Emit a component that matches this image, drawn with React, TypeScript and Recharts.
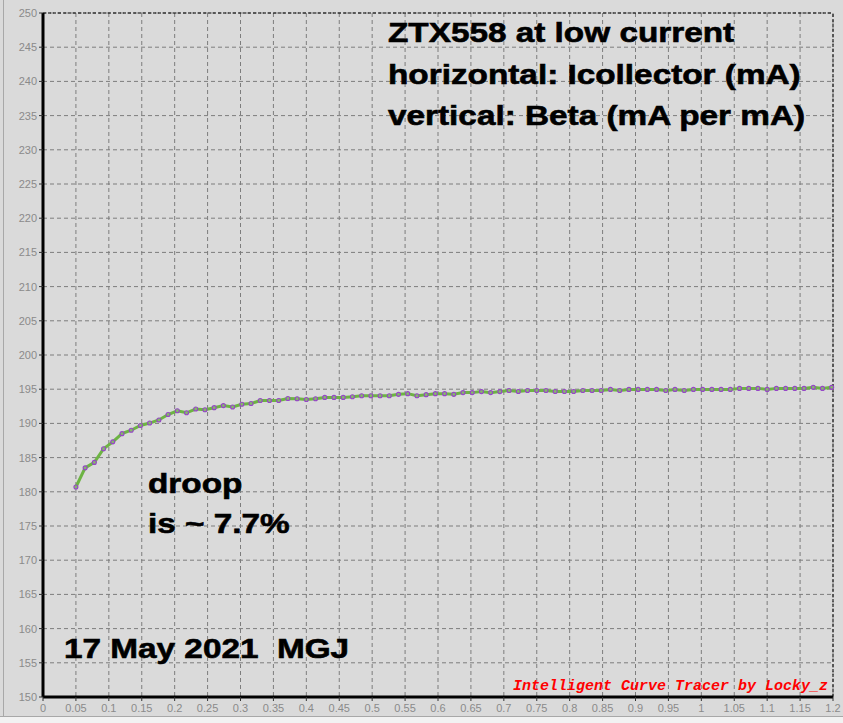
import React from 'react'
import { LineChart, Line, XAxis, YAxis, CartesianGrid, ReferenceLine } from 'recharts'

// collector current (mA), sampled points
const icollector = [
  0.05, 0.064, 0.078, 0.092, 0.106, 0.12, 0.134, 0.148, 0.162, 0.176,
  0.19, 0.204, 0.218, 0.232, 0.246, 0.26, 0.274, 0.288, 0.302, 0.316,
  0.33, 0.344, 0.358, 0.372, 0.386, 0.4, 0.414, 0.428, 0.442, 0.456,
  0.47, 0.484, 0.498, 0.512, 0.526, 0.54, 0.554, 0.568, 0.582, 0.596,
  0.61, 0.624, 0.638, 0.652, 0.666, 0.68, 0.694, 0.708, 0.722, 0.736,
  0.75, 0.764, 0.778, 0.792, 0.806, 0.82, 0.834, 0.848, 0.862, 0.876,
  0.89, 0.904, 0.918, 0.932, 0.946, 0.96, 0.974, 0.988, 1.002, 1.016,
  1.03, 1.044, 1.058, 1.072, 1.086, 1.1, 1.114, 1.128, 1.142, 1.156,
  1.17, 1.184, 1.198,
]

// beta (mA per mA)
const beta = [
  180.7, 183.5, 184.3, 186.3, 187.3, 188.5, 189.0, 189.7, 190.05, 190.5,
  191.3, 191.85, 191.55, 192.1, 192.0, 192.3, 192.6, 192.4, 192.8, 192.9,
  193.35, 193.35, 193.35, 193.65, 193.6, 193.5, 193.6, 193.8, 193.8, 193.8,
  193.9, 194.05, 194.05, 194.05, 194.05, 194.25, 194.35, 194.05, 194.2, 194.35,
  194.35, 194.25, 194.5, 194.5, 194.65, 194.5, 194.65, 194.8, 194.67, 194.82,
  194.82, 194.82, 194.67, 194.67, 194.67, 194.82, 194.82, 194.82, 194.97, 194.82,
  194.97, 194.97, 194.97, 194.97, 194.82, 194.97, 194.82, 194.97, 194.97, 194.97,
  194.97, 194.97, 195.12, 195.12, 195.12, 194.97, 195.12, 195.12, 195.12, 195.12,
  195.27, 195.12, 195.27,
]

const xTicks = [
  0, 0.05, 0.1, 0.15, 0.2, 0.25, 0.3, 0.35, 0.4, 0.45, 0.5, 0.55, 0.6,
  0.65, 0.7, 0.75, 0.8, 0.85, 0.9, 0.95, 1, 1.05, 1.1, 1.15, 1.2,
]
const yTicks = [
  150, 155, 160, 165, 170, 175, 180, 185, 190, 195, 200, 205, 210, 215, 220,
  225, 230, 235, 240, 245, 250,
]

const titleLines = ['ZTX558 at low current', 'horizontal: Icollector (mA)', 'vertical: Beta (mA per mA)']
const droopLines = ['droop', 'is ~ 7.7%']
const dateNote = '17 May 2021  MGJ'
const credit = 'Intelligent Curve Tracer by Locky_z'

const data = icollector.map((ic, i) => ({ ic, beta: beta[i] }))

const BG = '#dadada'
const tickStyle = { fill: '#8a8a8a', fontSize: 11, fontFamily: '"Liberation Sans", Arial, sans-serif' }
const bigFont = '"Liberation Sans", Arial, sans-serif'

function BigText({ x, y, text }: { x: number; y: number; text: string }) {
  return (
    <text
      transform={`translate(${x},${y}) scale(1.19,1)`}
      fontFamily={bigFont}
      fontWeight="bold"
      fontSize={28}
      fill="#000"
      stroke="#000"
      strokeWidth={0.6}
      style={{ whiteSpace: 'pre' }}
    >
      {text}
    </text>
  )
}

export default function App() {
  return (
    <div style={{ position: 'absolute', left: 0, top: 0, width: 843, height: 723, background: BG, overflow: 'hidden' }}>
      <div style={{ position: 'absolute', left: 3, top: 0, width: 1, height: 716, background: '#a8a8a8' }} />
      <div style={{ position: 'absolute', left: 0, top: 716, width: 843, height: 7, background: '#f2f2f2', borderTop: '1px solid #a8a8a8' }} />
      <LineChart width={843} height={723} data={data} margin={{ top: 13, right: 10, left: 0, bottom: 0 }}>
        <CartesianGrid stroke="#7d7d7d" strokeDasharray="4 3" />
        <XAxis
          dataKey="ic"
          type="number"
          domain={[0, 1.2]}
          ticks={xTicks}
          interval={0}
          height={26}
          tickSize={4}
          tickMargin={3}
          tick={tickStyle}
          tickLine={{ stroke: '#333' }}
          axisLine={{ stroke: '#000', strokeWidth: 3 }}
        />
        <YAxis
          type="number"
          domain={[150, 250]}
          ticks={yTicks}
          interval={0}
          width={43}
          tickSize={4}
          tickMargin={2}
          tick={tickStyle}
          tickLine={{ stroke: '#333' }}
          axisLine={{ stroke: '#000', strokeWidth: 3 }}
        />
        <ReferenceLine y={250} stroke="#000" strokeDasharray="3 2" />
        <ReferenceLine x={1.2} stroke="#000" strokeDasharray="3 2" />
        <Line
          dataKey="beta"
          type="linear"
          stroke="#6db443"
          strokeWidth={3}
          dot={{ r: 2, stroke: '#9646c8', strokeWidth: 1.1, fill: '#86b86a' }}
          isAnimationActive={false}
        />
      </LineChart>
      <svg width={843} height={723} style={{ position: 'absolute', left: 0, top: 0, pointerEvents: 'none' }}>
        {titleLines.map((t, i) => (
          <BigText key={t} x={388} y={42 + i * 41.5} text={t} />
        ))}
        {droopLines.map((t, i) => (
          <BigText key={t} x={148} y={493 + i * 40} text={t} />
        ))}
        <BigText x={64} y={658} text={dateNote} />
        <text
          x={513}
          y={690}
          fontFamily='"Liberation Mono", "Courier New", monospace'
          fontWeight="bold"
          fontStyle="italic"
          fontSize={15}
          fill="#ff0000"
        >
          {credit}
        </text>
      </svg>
    </div>
  )
}
